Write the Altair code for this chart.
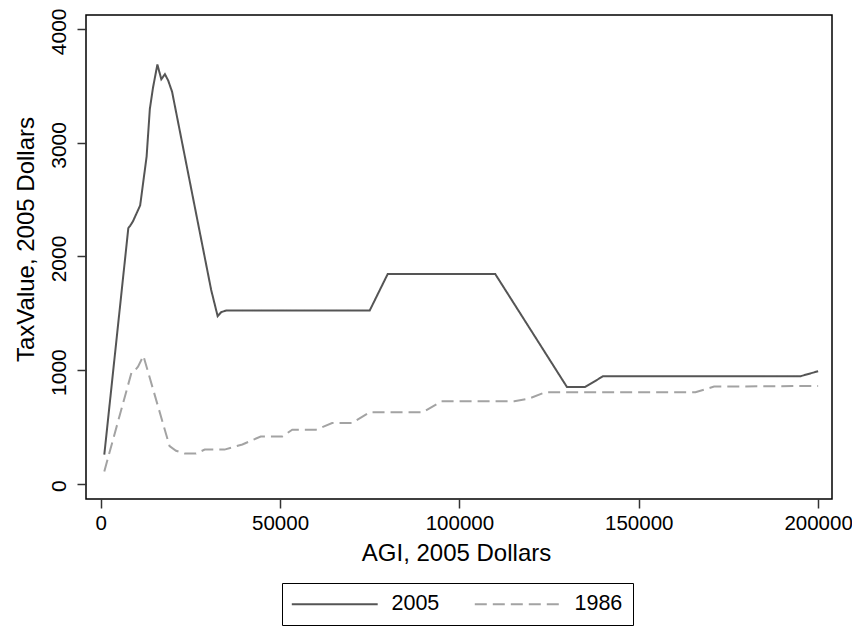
import altair as alt
import pandas as pd

# 2005 series
agi_2005 = [1000, 7700, 8200, 9000, 10000, 11000, 12800, 13700, 14600, 15800,
            16900, 17900, 18800, 19900, 30800, 32600, 33600, 35000, 75000, 80000,
            110000, 130000, 135000, 140000, 195000, 200000]
tax_2005 = [255, 2250, 2270, 2310, 2380, 2450, 2880, 3300, 3490, 3690,
            3560, 3605, 3550, 3450, 1705, 1475, 1510, 1525, 1525, 1845,
            1845, 850, 850, 945, 945, 990]

# 1986 series
agi_1986 = [1000, 8600, 9600, 10400, 11900, 19200, 21000, 23400, 26600, 29000,
            34500, 39500, 44600, 50600, 53400, 60000, 64500, 70000, 75000, 89700,
            95000, 115300, 119500, 124000, 165800, 171000, 200000]
tax_1986 = [108, 980, 1000, 1030, 1125, 330, 290, 265, 265, 300,
            300, 345, 415, 415, 475, 475, 533, 533, 628, 628,
            725, 725, 750, 805, 805, 855, 860]

series_names = ["2005", "1986"]
x_ticks = [0, 50000, 100000, 150000, 200000]
y_ticks = [0, 1000, 2000, 3000, 4000]

rows = []
for i, (a, t) in enumerate(zip(agi_2005, tax_2005)):
    rows.append({"AGI": a, "TaxValue": t, "Series": "2005", "order": i})
for i, (a, t) in enumerate(zip(agi_1986, tax_1986)):
    rows.append({"AGI": a, "TaxValue": t, "Series": "1986", "order": i})
df = pd.DataFrame(rows)

FONT = "Liberation Sans"

chart = alt.Chart(df).mark_line(strokeWidth=2).encode(
    x=alt.X("AGI:Q",
            scale=alt.Scale(domain=[-4100, 203870], nice=False, zero=False),
            axis=alt.Axis(values=x_ticks, title="AGI, 2005 Dollars", format="d",
                          labelFontSize=20.5, titleFontSize=24,
                          labelBaseline="alphabetic", labelPadding=21,
                          titleBaseline="alphabetic", titleX=370, titleY=61,
                          titleAlign="center")),
    y=alt.Y("TaxValue:Q",
            scale=alt.Scale(domain=[-135, 4126], nice=False, zero=False),
            axis=alt.Axis(values=y_ticks, title="TaxValue, 2005 Dollars", format="d",
                          labelFontSize=21, titleFontSize=24,
                          labelAngle=270, labelAlign="center",
                          labelBaseline="alphabetic", labelPadding=12,
                          labelOffset=2,
                          titleAngle=270, titleAlign="center",
                          titleBaseline="alphabetic", titleX=-53, titleY=224)),
    color=alt.Color("Series:N",
                    scale=alt.Scale(domain=series_names, range=["#555555", "#a3a3a3"]),
                    legend=alt.Legend(title=None)),
    strokeDash=alt.StrokeDash("Series:N",
                              scale=alt.Scale(domain=series_names, range=[[1, 0], [12, 6]]),
                              legend=alt.Legend(title=None)),
    order="order:Q",
).properties(
    width=746,
    height=484,
    autosize=alt.AutoSizeParams(type="none"),
    padding={"left": 78, "top": 7, "right": 20, "bottom": 130},
).configure_view(
    stroke="black", strokeWidth=1.5
).configure_axis(
    domain=False, grid=False, ticks=True, tickSize=9, tickWidth=1.5,
    tickColor="#333333", labelFont=FONT, titleFont=FONT,
    labelColor="black", titleColor="black", titleFontWeight="normal",
).configure_legend(
    orient="none", legendX=196, legendY=568, direction="horizontal",
    strokeColor="black", padding=10, labelFont=FONT, labelFontSize=21.5,
    labelColor="black", symbolType="M-6,0H6", symbolSize=205,
    symbolStrokeWidth=2, symbolOffset=32, labelOffset=46, columnPadding=30,
)

chart.save("out.html", embed_options={"renderer": "svg", "actions": False})
